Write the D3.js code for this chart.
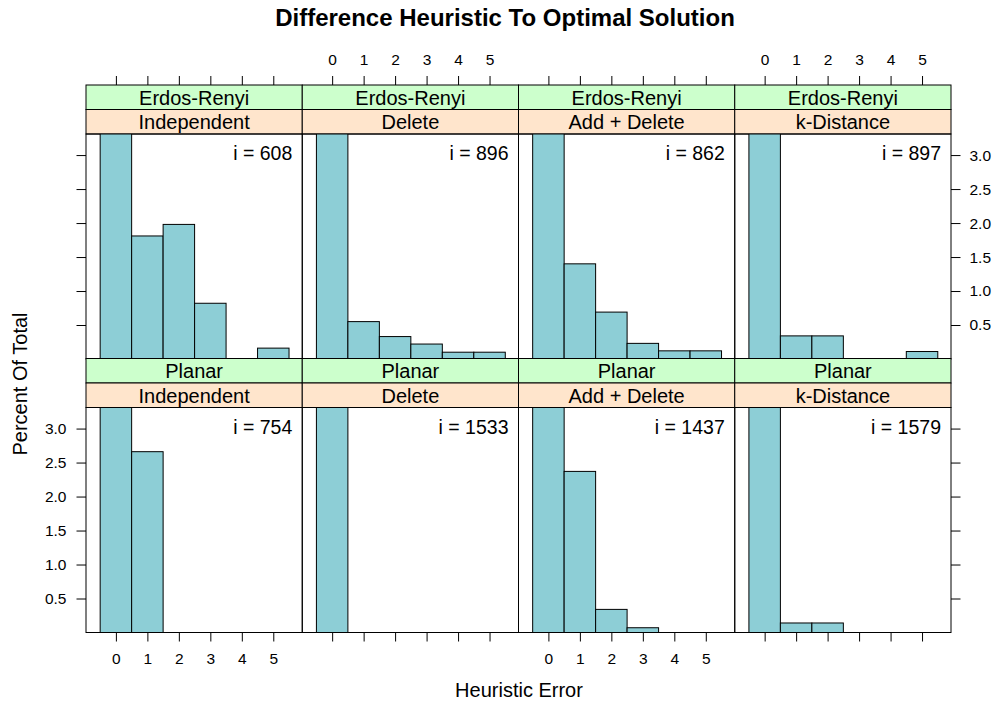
<!DOCTYPE html>
<html><head><meta charset="utf-8">
<script src="https://cdn.jsdelivr.net/npm/d3@7"></script>
<style>body{margin:0;background:#fff}svg{display:block}text{font-family:"Liberation Sans",Arial,Helvetica,sans-serif}</style>
</head><body><svg id="c" width="999" height="707"></svg>
<script>
const graphTypes = ["Erdos-Renyi", "Planar"];
const methods = ["Independent", "Delete", "Add + Delete", "k-Distance"];
const counts = [[608, 896, 862, 897], [754, 1533, 1437, 1579]];
const errorBins = [0, 1, 2, 3, 4, 5];
// percent of total per bin (0..5)
const erIndependent = [95.25, 1.81, 1.98, 0.82, 0, 0.16];
const erDelete = [98.7, 0.55, 0.33, 0.22, 0.10, 0.10];
const erAddDelete = [97.44, 1.40, 0.69, 0.23, 0.12, 0.12];
const erKDistance = [99.22, 0.34, 0.34, 0, 0, 0.11];
const plIndependent = [97.34, 2.66, 0, 0, 0, 0];
const plDelete = [100, 0, 0, 0, 0, 0];
const plAddDelete = [97.22, 2.37, 0.34, 0.07, 0, 0];
const plKDistance = [99.72, 0.14, 0.14, 0, 0, 0];
const values = [[erIndependent, erDelete, erAddDelete, erKDistance],
                [plIndependent, plDelete, plAddDelete, plKDistance]];
const yTicks = [0.5, 1.0, 1.5, 2.0, 2.5, 3.0];

const svg = d3.select("#c");
const left = 86, right = 951, colW = (right - left) / 4;
const rowTops = [85, 358.5];
const stripH = 24.5, panelH = 225;
const x = d3.scaleLinear().domain([-0.95, 5.92]).range([0, colW]);
const y = d3.scaleLinear().domain([0, 3.31]).range([panelH, 0]);
const barFill = "#8DCED6";
const FONT = '"Liberation Sans",Arial,Helvetica,sans-serif';

svg.append("defs").append("clipPath").attr("id", "pclip")
  .append("rect").attr("x", 0).attr("y", 0).attr("width", colW).attr("height", panelH);

svg.append("text").attr("x", 505).attr("y", 26).attr("text-anchor", "middle")
  .attr("font-size", 24).attr("font-weight", "bold").text("Difference Heuristic To Optimal Solution");

graphTypes.forEach((g, r) => {
  methods.forEach((m, c) => {
    const gx = left + c * colW, top = rowTops[r];
    const p = svg.append("g").attr("transform", `translate(${gx},${top})`);
    // strips
    p.append("rect").attr("x", 0).attr("y", 0).attr("width", colW).attr("height", stripH)
      .attr("fill", "#CCFFCC").attr("stroke", "#000").attr("stroke-width", 1);
    p.append("text").attr("x", colW / 2).attr("y", stripH / 2 + 7.5).attr("text-anchor", "middle")
      .attr("font-size", 20).text(g);
    p.append("rect").attr("x", 0).attr("y", stripH).attr("width", colW).attr("height", stripH)
      .attr("fill", "#FFE5CC").attr("stroke", "#000").attr("stroke-width", 1);
    p.append("text").attr("x", colW / 2).attr("y", stripH * 1.5 + 7.5).attr("text-anchor", "middle")
      .attr("font-size", 20).text(m);
    const pan = p.append("g").attr("transform", `translate(0,${2 * stripH})`);
    const bars = pan.append("g").attr("clip-path", "url(#pclip)");
    bars.selectAll("rect").data(values[r][c].map((v, i) => ({v, b: errorBins[i]})).filter(d => d.v > 0))
      .join("rect")
      .attr("x", d => x(d.b - 0.5)).attr("width", d => x(d.b + 0.5) - x(d.b - 0.5))
      .attr("y", d => y(d.v)).attr("height", d => y(0) - y(d.v))
      .attr("fill", barFill).attr("stroke", "#000").attr("stroke-width", 1);
    pan.append("rect").attr("x", 0).attr("y", 0).attr("width", colW).attr("height", panelH)
      .attr("fill", "none").attr("stroke", "#000").attr("stroke-width", 1);
    pan.append("text").attr("x", colW - 10).attr("y", 26).attr("text-anchor", "end")
      .attr("font-size", 19.5).text("i = " + counts[r][c]);

    // axes
    const xAx = (axis, labels) => axis.tickValues(errorBins).tickSize(9).tickPadding(11)
      .tickFormat(labels ? d3.format("d") : () => "");
    const yAx = (axis, labels, pad) => axis.tickValues(yTicks).tickSize(9.5).tickPadding(pad)
      .tickFormat(labels ? d3.format(".1f") : () => "");
    const styleAx = sel => {
      sel.attr("font-family", FONT).attr("font-size", 15.5);
      sel.select(".domain").remove();
      sel.selectAll(".tick line").attr("stroke", "#000");
      sel.selectAll(".tick text").attr("fill", "#000");
    };
    if (r === 0) {
      p.append("g").call(xAx(d3.axisTop(x), c % 2 === 1)).call(styleAx);
      if (c === 0) pan.append("g").call(yAx(d3.axisLeft(y), false, 10)).call(styleAx);
      if (c === 3) pan.append("g").attr("transform", `translate(${colW},0)`).call(yAx(d3.axisRight(y), true, 9)).call(styleAx);
    } else {
      pan.append("g").attr("transform", `translate(0,${panelH})`).call(xAx(d3.axisBottom(x), c % 2 === 0)).call(styleAx);
      if (c === 0) pan.append("g").call(yAx(d3.axisLeft(y), true, 10)).call(styleAx);
      if (c === 3) pan.append("g").attr("transform", `translate(${colW},0)`).call(yAx(d3.axisRight(y), false, 9)).call(styleAx);
    }
  });
});

svg.append("text").attr("x", 519).attr("y", 697).attr("text-anchor", "middle")
  .attr("font-size", 20).text("Heuristic Error");
svg.append("text").attr("transform", "translate(27,384) rotate(-90)").attr("text-anchor", "middle")
  .attr("font-size", 20).text("Percent Of Total");
</script></body></html>
